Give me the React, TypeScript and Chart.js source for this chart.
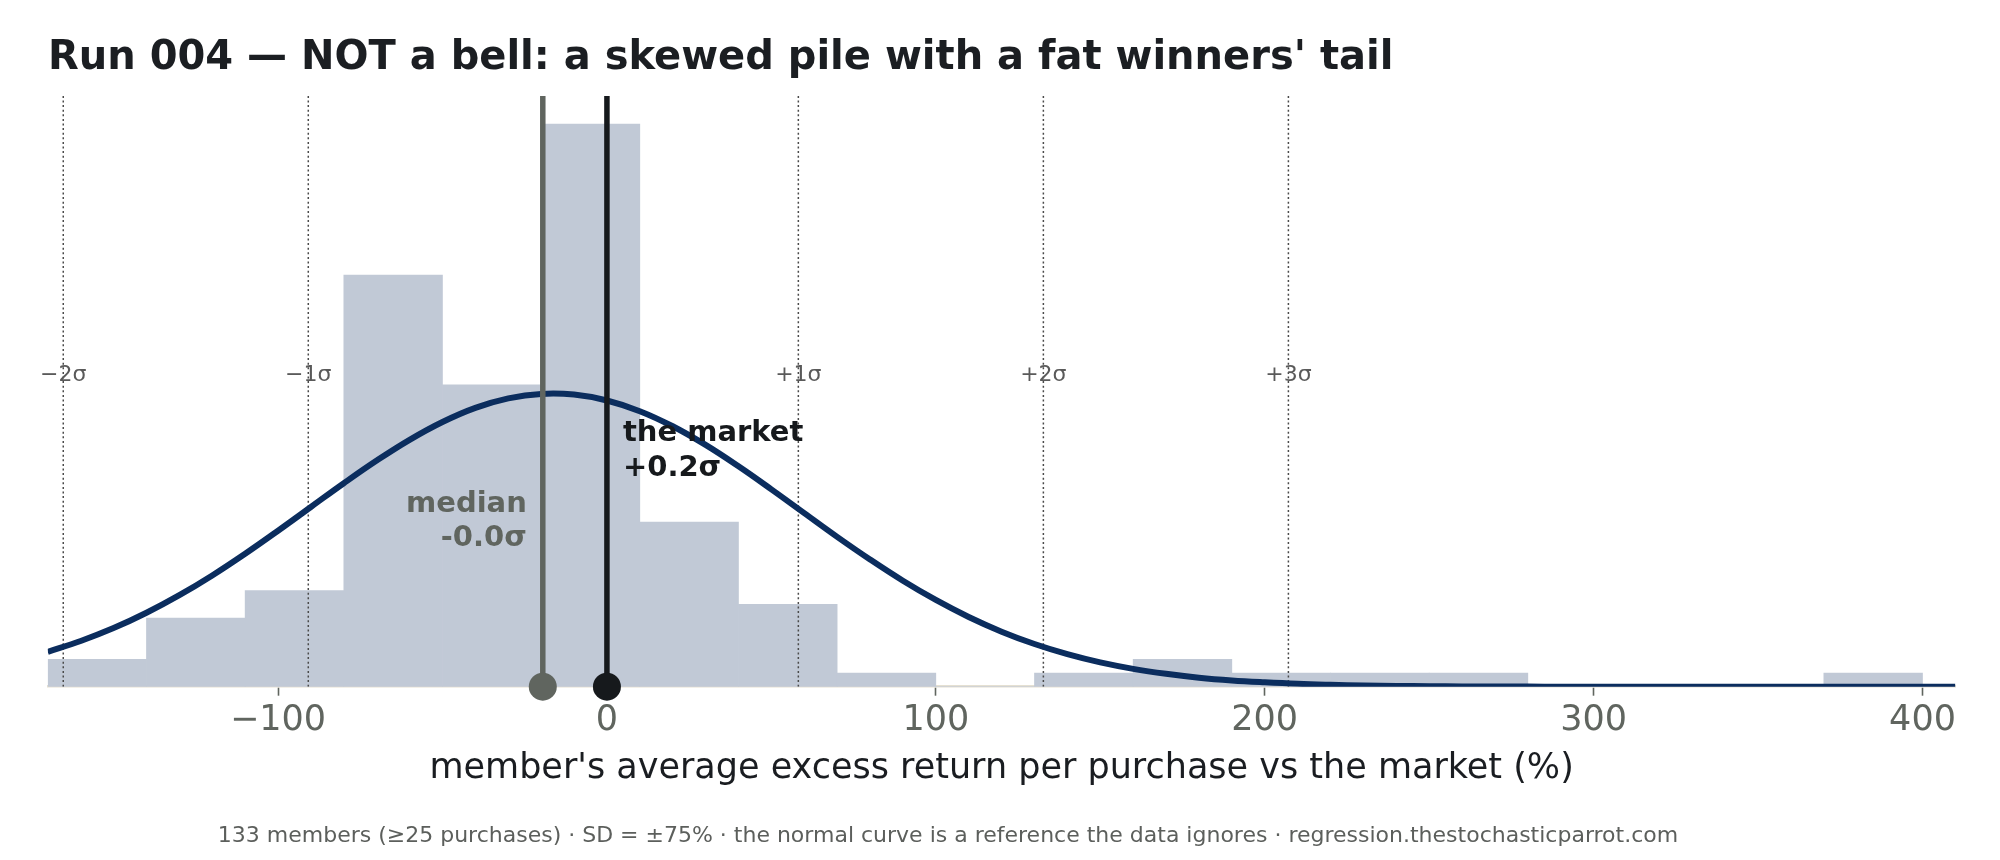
import { useEffect, useRef } from "react";
import { Chart, registerables } from "chart.js";

Chart.register(...registerables);

const TITLE = "Run 004 — NOT a bell: a skewed pile with a fat winners' tail";
const X_TITLE = "member's average excess return per purchase vs the market (%)";
const FOOTER =
  "133 members (≥25 purchases) · SD = ±75% · the normal curve is a reference the data ignores · regression.thestochasticparrot.com";

// histogram: left edge of each 30-point bin and number of members in it
const binLefts = [-170, -140, -110, -80, -50, -20, 10, 40, 70, 100, 130, 160, 190, 220, 250, 280, 310, 340, 370];
const binCounts = [2, 5, 7, 30, 22, 41, 12, 6, 1, 0, 1, 2, 1, 1, 1, 0, 0, 0, 1];
const BIN_WIDTH = 30;

// reference normal curve
const curveX = [
  -170, -160, -150, -140, -130, -120, -110, -100, -90, -80, -70, -60, -50, -40, -30, -20, -10, 0, 10, 20,
  30, 40, 50, 60, 70, 80, 90, 100, 110, 120, 130, 140, 150, 160, 170, 180, 190, 200, 210, 220,
  230, 240, 250, 260, 270, 280, 290, 300, 310, 320, 330, 340, 350, 360, 370, 380, 390, 400, 410,
];
const curveY = [
  2.54, 3.33, 4.27, 5.39, 6.67, 8.11, 9.69, 11.37, 13.1, 14.83, 16.48, 17.99, 19.29, 20.32, 21.01, 21.34,
  21.29, 20.86, 20.08, 18.98, 17.62, 16.06, 14.38, 12.65, 10.92, 9.27, 7.72, 6.32, 5.08, 4.01, 3.11, 2.37,
  1.77, 1.3, 0.94, 0.66, 0.46, 0.32, 0.21, 0.14, 0.09, 0.06, 0.04, 0.02, 0.01, 0.01, 0, 0, 0, 0, 0, 0, 0,
  0, 0, 0, 0, 0, 0,
];

const MEAN = -16.3;
const SD = 74.5;
const MEDIAN = -19.5;
const MARKET = 0;

const sigmaSteps = [-2, -1, 1, 2, 3];
const sigmaLabels = ["−2σ", "−1σ", "+1σ", "+2σ", "+3σ"];
const xTicks = [-100, 0, 100, 200, 300, 400];

const X_MIN = -170;
const X_MAX = 410;
const Y_MAX = 43.05;

const SIGMA_LABEL_Y = 22.7;
const MARKET_LABEL_Y = 17.9;
const MEDIAN_LABEL_Y = 12.75;

const FONT = "'DejaVu Sans', sans-serif";
const BAR = "#c1c9d6";
const CURVE = "#0b2d5e";
const MEDIAN_C = "#60655f";
const MARKET_C = "#16191c";

const fmtTick = (v: number) => (v < 0 ? `−${Math.abs(v)}` : `${v}`);

const textPlugin = {
  id: "textNotes",
  afterDatasetsDraw(chart: any) {
    const { ctx } = chart;
    const x = chart.scales.x;
    const y = chart.scales.y;
    ctx.save();

    ctx.font = `22px ${FONT}`;
    ctx.fillStyle = "#5a5a5a";
    ctx.textAlign = "center";
    ctx.textBaseline = "middle";
    sigmaSteps.forEach((k, i) => {
      ctx.fillText(sigmaLabels[i], x.getPixelForValue(MEAN + k * SD), y.getPixelForValue(SIGMA_LABEL_Y));
    });

    ctx.font = `bold 29px ${FONT}`;
    ctx.textBaseline = "alphabetic";
    ctx.textAlign = "left";
    ctx.fillStyle = MARKET_C;
    const mx = x.getPixelForValue(MARKET) + 16;
    const my = y.getPixelForValue(MARKET_LABEL_Y);
    ctx.fillText("the market", mx, my);
    ctx.fillText("+0.2σ", mx, my + 35);

    ctx.textAlign = "right";
    ctx.fillStyle = MEDIAN_C;
    const dx = x.getPixelForValue(MEDIAN) - 16;
    const dy = y.getPixelForValue(MEDIAN_LABEL_Y);
    ctx.fillText("median", dx, dy);
    ctx.fillText("-0.0σ", dx, dy + 34);

    ctx.restore();
  },
};

export default function App() {
  const canvasRef = useRef<HTMLCanvasElement | null>(null);

  useEffect(() => {
    if (!canvasRef.current) return;
    Chart.defaults.font.family = FONT;

    const vline = (xv: number, color: string, width: number, dash: number[], order: number) => ({
      type: "line" as const,
      data: [
        { x: xv, y: 0 },
        { x: xv, y: Y_MAX },
      ],
      borderColor: color,
      borderWidth: width,
      borderDash: dash,
      pointRadius: 0,
      order,
    });

    const chart = new Chart(canvasRef.current, {
      type: "bar",
      data: {
        datasets: [
          {
            type: "scatter" as const,
            data: [
              { x: MEDIAN, y: 0 },
              { x: MARKET, y: 0 },
            ],
            pointRadius: 14,
            pointBackgroundColor: [MEDIAN_C, MARKET_C],
            pointBorderWidth: 0,
            clip: false as any,
            order: 1,
          },
          vline(MEDIAN, MEDIAN_C, 5.5, [], 2),
          vline(MARKET, MARKET_C, 5.5, [], 2),
          {
            type: "line" as const,
            data: curveX.map((xv, i) => ({ x: xv, y: curveY[i] })),
            borderColor: CURVE,
            borderWidth: 6,
            pointRadius: 0,
            tension: 0.4,
            order: 3,
          },
          ...sigmaSteps.map((k) => vline(MEAN + k * SD, "#4a4a4a", 1.5, [2, 2.6], 4)),
          {
            type: "bar" as const,
            data: binLefts.map((l, i) => ({ x: l + BIN_WIDTH / 2, y: binCounts[i] })),
            backgroundColor: BAR,
            borderWidth: 0,
            barPercentage: 1,
            categoryPercentage: 1,
            order: 5,
          },
        ] as any,
      },
      options: {
        animation: false,
        responsive: true,
        maintainAspectRatio: false,
        events: [],
        layout: { padding: { left: 47.8, right: 44.6, top: 96, bottom: 0 } },
        plugins: { legend: { display: false }, tooltip: { enabled: false }, title: { display: false } },
        scales: {
          x: {
            type: "linear",
            min: X_MIN,
            max: X_MAX,
            offset: false,
            afterBuildTicks: (scale: any) => {
              scale.ticks = xTicks.map((v) => ({ value: v }));
            },
            afterFit: (scale: any) => {
              scale.height = 173.3;
            },
            ticks: {
              font: { size: 35 },
              color: MEDIAN_C,
              padding: 4,
              autoSkip: false,
              maxRotation: 0,
              callback: (v: any) => fmtTick(Number(v)),
            },
            grid: {
              display: true,
              offset: false,
              drawOnChartArea: false,
              drawTicks: true,
              tickLength: 9,
              tickColor: MEDIAN_C,
              tickWidth: 1.6,
            },
            border: { display: true, color: "#e5e0d2", width: 2.5 },
            title: {
              display: true,
              text: X_TITLE,
              font: { size: 35 },
              color: "#1a1d21",
              padding: { top: 0, bottom: 70.4 },
            },
          },
          y: { display: false, min: 0, max: Y_MAX },
        },
      } as any,
      plugins: [textPlugin],
    });

    return () => chart.destroy();
  }, []);

  return (
    <div
      style={{
        position: "fixed",
        left: 0,
        top: 0,
        width: 2000,
        height: 860,
        background: "#fff",
        fontFamily: FONT,
        overflow: "hidden",
      }}
    >
      <div style={{ position: "absolute", left: 0, top: 0, width: 2000, height: 860 }}>
        <canvas ref={canvasRef} />
      </div>
      <div
        style={{
          position: "absolute",
          left: 48,
          top: 34.5,
          fontSize: 40,
          lineHeight: "40px",
          fontWeight: "bold",
          color: "#1b1e22",
          whiteSpace: "nowrap",
        }}
      >
        {TITLE}
      </div>
      <div
        style={{
          position: "absolute",
          left: 0,
          width: 1896,
          top: 824.4,
          fontSize: 22,
          lineHeight: "22px",
          color: "#5c5f5c",
          textAlign: "center",
          whiteSpace: "nowrap",
        }}
      >
        {FOOTER}
      </div>
    </div>
  );
}
